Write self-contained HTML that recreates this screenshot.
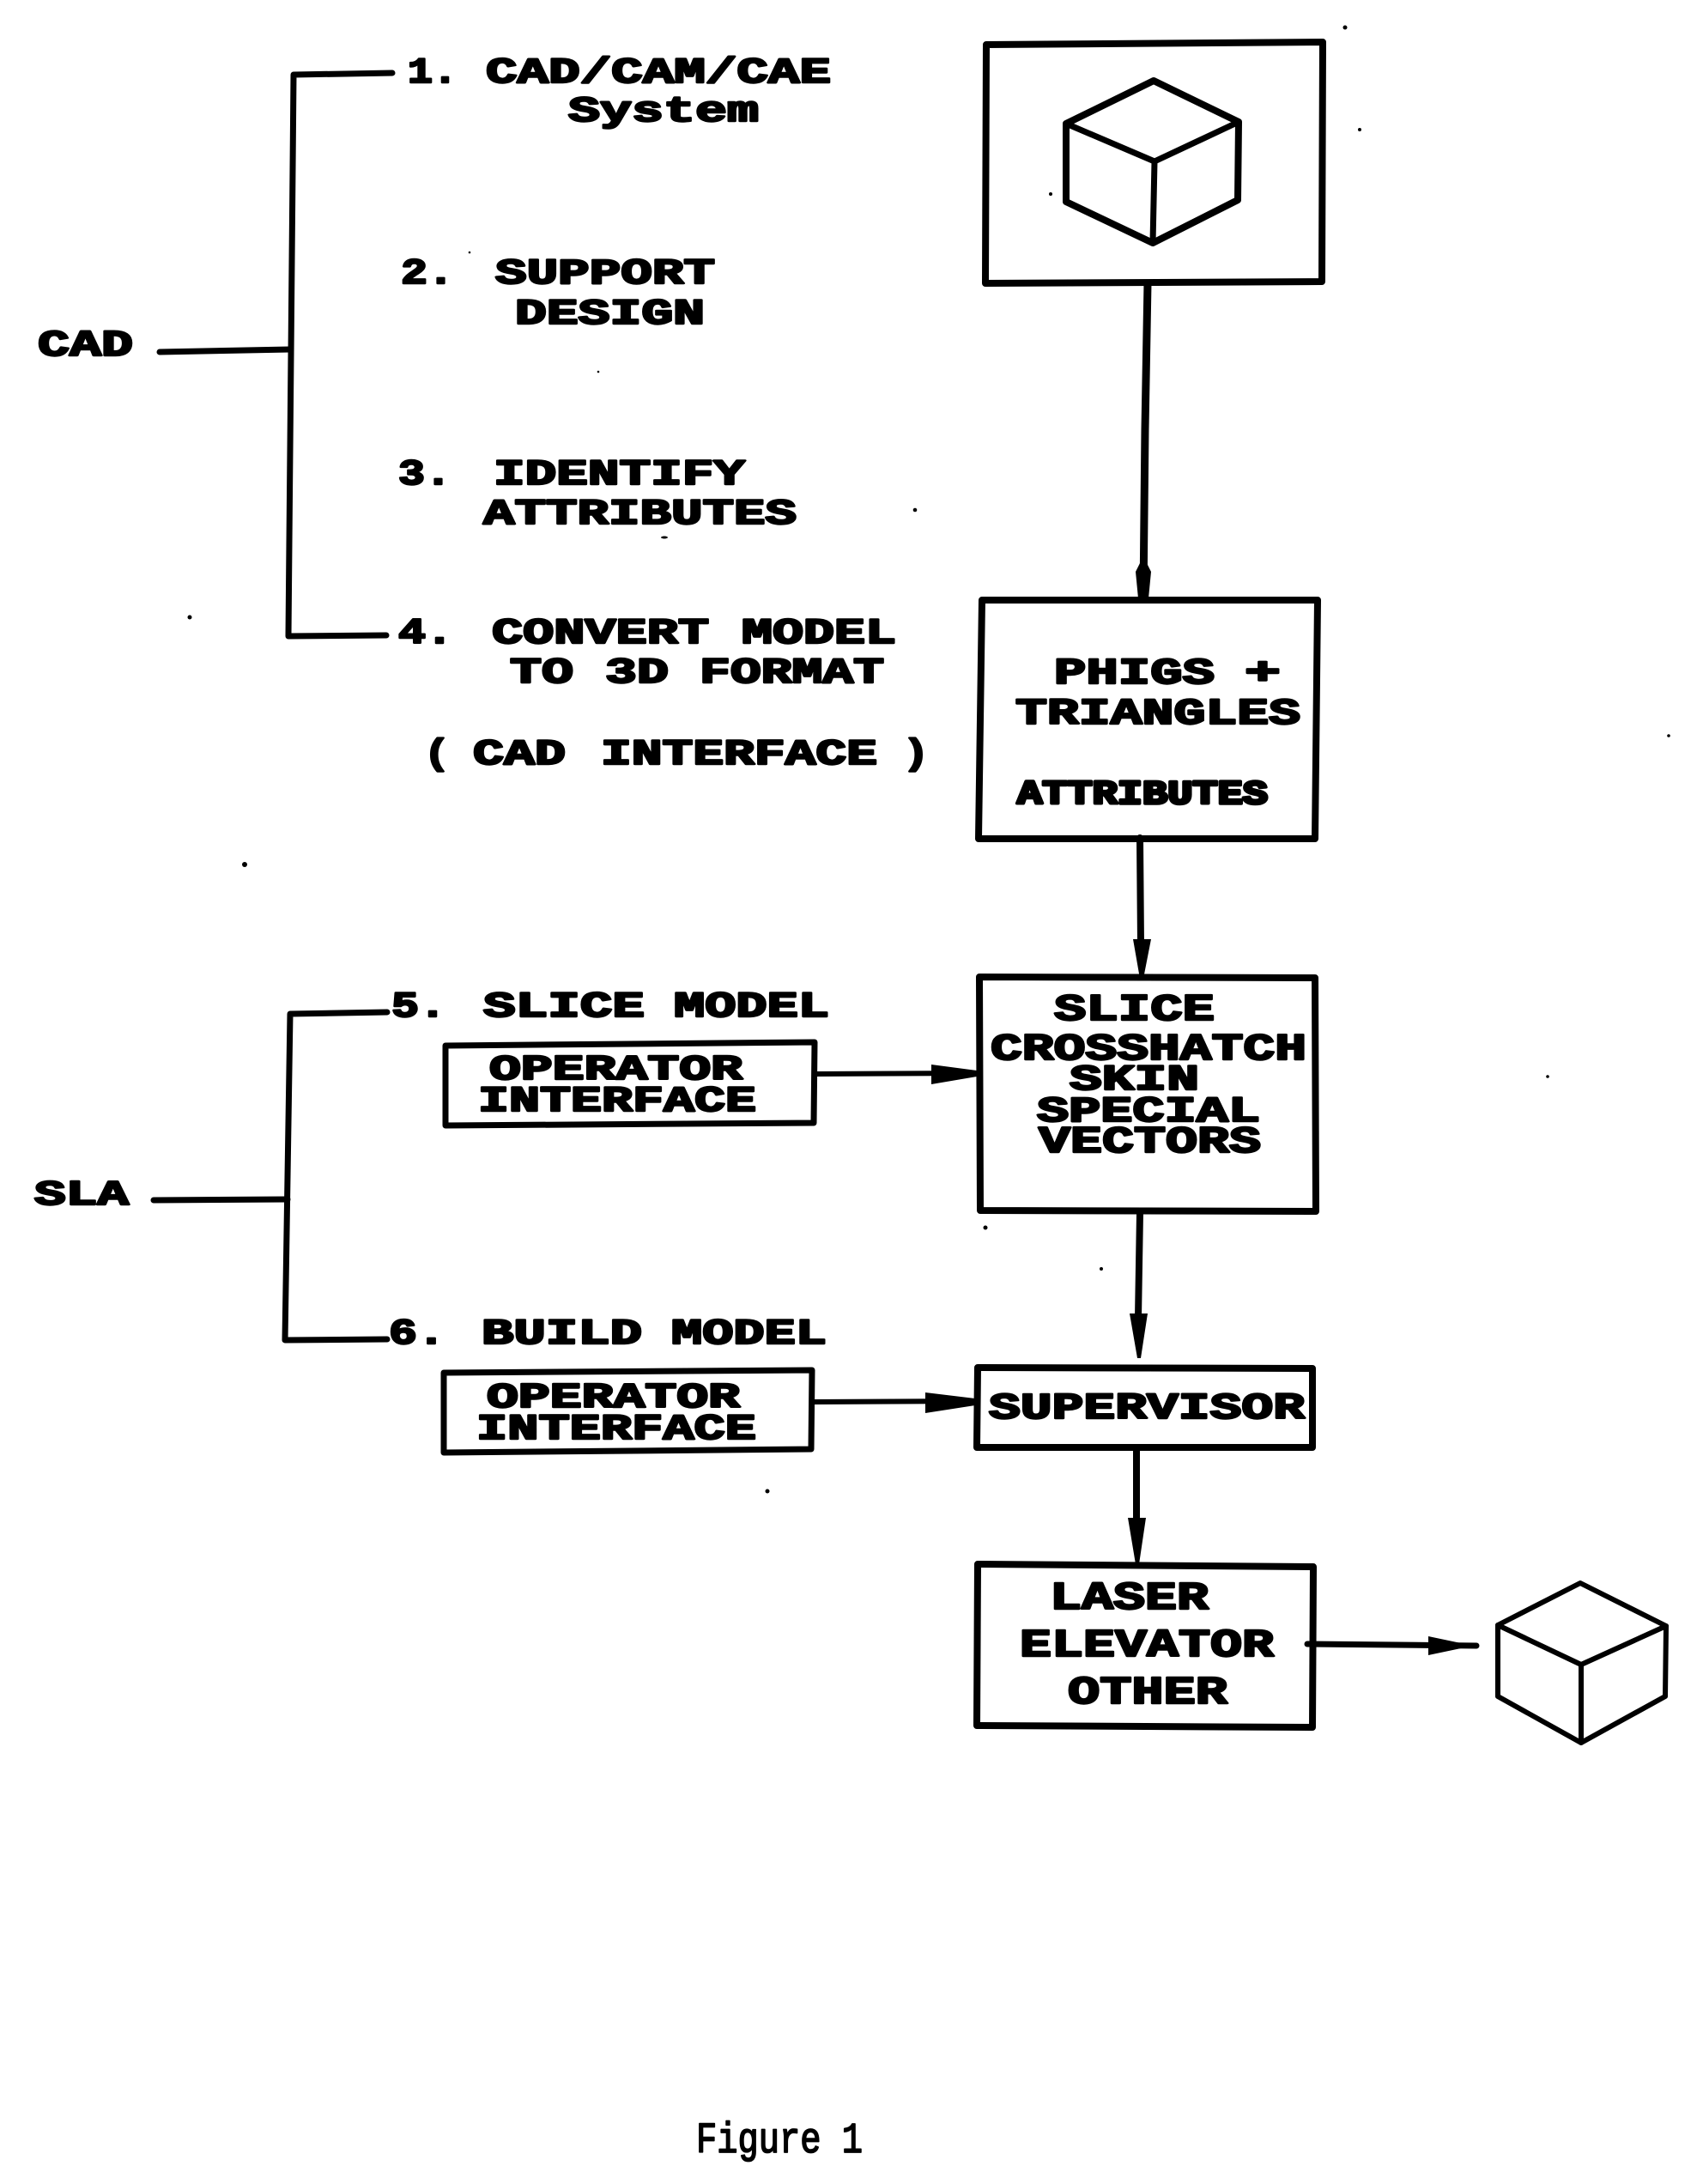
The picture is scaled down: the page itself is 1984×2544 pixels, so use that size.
<!DOCTYPE html>
<html lang="en"><head><meta charset="utf-8"><title>Figure 1</title>
<style>
html,body{margin:0;padding:0;background:#fff;width:1984px;height:2544px;overflow:hidden}
svg{display:block}
text{font-family:"Liberation Mono",monospace;font-weight:700;fill:#000;stroke:#000;stroke-width:2.4;stroke-linejoin:round}
.l{fill:none;stroke:#000;stroke-linejoin:round;stroke-linecap:round}
</style></head><body>
<svg xmlns="http://www.w3.org/2000/svg" width="1984" height="2544" viewBox="0 0 1984 2544">
<rect width="1984" height="2544" fill="#fff"/>

<!-- boxes -->
<path class="l" stroke-width="8" d="M1149 52L1541 49L1540 328L1148 330Z"/>
<path class="l" stroke-width="8" d="M1144 699L1535 699L1532 977L1140 977Z"/>
<path class="l" stroke-width="8" d="M1141 1138L1532 1139L1533 1411L1142 1410Z"/>
<path class="l" stroke-width="8" d="M1139 1593L1529 1594L1529 1686L1138 1686Z"/>
<path class="l" stroke-width="8" d="M1139 1822L1530 1825L1529 2012L1138 2010Z"/>
<path class="l" stroke-width="7" d="M519 1218L949 1214L948 1308L519 1311Z"/>
<path class="l" stroke-width="7" d="M517 1599L946 1596L945 1688L517 1692Z"/>

<!-- cubes -->
<path class="l" stroke-width="8" d="M1344 94L1443 142L1442 233L1343 283L1242 235L1242 144Z"/>
<path class="l" stroke-width="7" d="M1242 144L1345 188L1443 142M1345 188L1343 283"/>
<path class="l" stroke-width="6" d="M1841 1844L1941 1894L1940 1976L1842 2030L1745 1976L1745 1893Z"/>
<path class="l" stroke-width="6" d="M1745 1893L1842 1939L1941 1894M1842 1939L1842 2030"/>

<!-- brackets -->
<path class="l" stroke-width="7" d="M457 85L342 87L336 741L450 740"/>
<path class="l" stroke-width="7" d="M186 410L338 407"/>
<path class="l" stroke-width="7" d="M451 1179L338 1181L332 1561L451 1560"/>
<path class="l" stroke-width="7" d="M179 1398L335 1397"/>

<!-- connectors -->
<path class="l" stroke-width="9" d="M1337 330L1334 500L1332 697"/>
<path fill="#000" d="M1332 648L1341 666L1338 697L1326 697L1323 666Z"/>
<path class="l" stroke-width="8" d="M1328 976L1329 1100"/>
<path fill="#000" d="M1320 1094L1341 1094L1332 1140L1328 1140Z"/>
<path class="l" stroke-width="8" d="M1328 1413L1326 1535"/>
<path fill="#000" d="M1316 1530L1337 1530L1329 1582L1325 1582Z"/>
<path class="l" stroke-width="8" d="M1324 1687L1324 1770"/>
<path fill="#000" d="M1314 1768L1335 1768L1327 1822L1323 1822Z"/>
<path class="l" stroke-width="6" d="M950 1251L1137 1250"/>
<path fill="#000" d="M1085 1240L1138 1247L1138 1254L1085 1263Z"/>
<path class="l" stroke-width="6" d="M947 1633L1136 1632"/>
<path fill="#000" d="M1078 1622L1136 1629L1136 1637L1078 1646Z"/>
<path class="l" stroke-width="7" d="M1523 1915L1720 1917"/>
<path fill="#000" d="M1664 1906L1702 1914L1702 1920L1664 1928Z"/>

<!-- text left -->
<text x="475" y="96" font-size="42" textLength="58" lengthAdjust="spacingAndGlyphs">1.</text>
<text x="566" y="96" font-size="42" textLength="402" lengthAdjust="spacingAndGlyphs">CAD/CAM/CAE</text>
<text x="662" y="141" font-size="42" textLength="222" lengthAdjust="spacingAndGlyphs">System</text>
<text x="467" y="330" font-size="42" textLength="62" lengthAdjust="spacingAndGlyphs">2.</text>
<text x="577" y="330" font-size="42" textLength="256" lengthAdjust="spacingAndGlyphs">SUPPORT</text>
<text x="600" y="377" font-size="42" textLength="221" lengthAdjust="spacingAndGlyphs">DESIGN</text>
<text x="464" y="564" font-size="42" textLength="62" lengthAdjust="spacingAndGlyphs">3.</text>
<text x="575" y="564" font-size="42" textLength="293" lengthAdjust="spacingAndGlyphs">IDENTIFY</text>
<text x="563" y="610" font-size="42" textLength="365" lengthAdjust="spacingAndGlyphs">ATTRIBUTES</text>
<text x="464" y="749" font-size="42" textLength="64" lengthAdjust="spacingAndGlyphs">4.</text>
<text x="573" y="749" font-size="42" textLength="253" lengthAdjust="spacingAndGlyphs">CONVERT</text>
<text x="864" y="749" font-size="42" textLength="180" lengthAdjust="spacingAndGlyphs">MODEL</text>
<text x="594" y="795" font-size="42" textLength="74" lengthAdjust="spacingAndGlyphs">TO</text>
<text x="705" y="795" font-size="42" textLength="74" lengthAdjust="spacingAndGlyphs">3D</text>
<text x="815" y="795" font-size="42" textLength="215" lengthAdjust="spacingAndGlyphs">FORMAT</text>
<text x="44" y="414" font-size="43" textLength="111" lengthAdjust="spacingAndGlyphs">CAD</text>
<text x="494" y="890" font-size="42" textLength="30" lengthAdjust="spacingAndGlyphs">(</text>
<text x="551" y="890" font-size="42" textLength="108" lengthAdjust="spacingAndGlyphs">CAD</text>
<text x="700" y="890" font-size="42" textLength="322" lengthAdjust="spacingAndGlyphs">INTERFACE</text>
<text x="1052" y="890" font-size="42" textLength="30" lengthAdjust="spacingAndGlyphs">)</text>

<text x="40" y="1403" font-size="41" textLength="110" lengthAdjust="spacingAndGlyphs">SLA</text>
<text x="456" y="1184" font-size="42" textLength="64" lengthAdjust="spacingAndGlyphs">5.</text>
<text x="563" y="1184" font-size="42" textLength="188" lengthAdjust="spacingAndGlyphs">SLICE</text>
<text x="785" y="1184" font-size="42" textLength="181" lengthAdjust="spacingAndGlyphs">MODEL</text>
<text x="570" y="1257" font-size="41" textLength="295" lengthAdjust="spacingAndGlyphs">OPERATOR</text>
<text x="557" y="1294" font-size="42" textLength="324" lengthAdjust="spacingAndGlyphs">INTERFACE</text>
<text x="453" y="1565" font-size="42" textLength="66" lengthAdjust="spacingAndGlyphs">6.</text>
<text x="561" y="1565" font-size="42" textLength="187" lengthAdjust="spacingAndGlyphs">BUILD</text>
<text x="782" y="1565" font-size="42" textLength="181" lengthAdjust="spacingAndGlyphs">MODEL</text>
<text x="567" y="1639" font-size="41" textLength="295" lengthAdjust="spacingAndGlyphs">OPERATOR</text>
<text x="555" y="1676" font-size="42" textLength="326" lengthAdjust="spacingAndGlyphs">INTERFACE</text>

<!-- text in boxes -->
<text x="1228" y="796" font-size="43" textLength="187" lengthAdjust="spacingAndGlyphs">PHIGS</text>
<text x="1450" y="796" font-size="43" textLength="42" lengthAdjust="spacingAndGlyphs">+</text>
<text x="1183" y="843" font-size="43" textLength="332" lengthAdjust="spacingAndGlyphs">TRIANGLES</text>
<text x="1185" y="936" font-size="39" textLength="292" lengthAdjust="spacingAndGlyphs" style="stroke-width:3.5">ATTRIBUTES</text>
<text x="1228" y="1188" font-size="44" textLength="187" lengthAdjust="spacingAndGlyphs">SLICE</text>
<text x="1154" y="1234" font-size="44" textLength="368" lengthAdjust="spacingAndGlyphs">CROSSHATCH</text>
<text x="1246" y="1269" font-size="42" textLength="151" lengthAdjust="spacingAndGlyphs">SKIN</text>
<text x="1208" y="1306" font-size="42" textLength="260" lengthAdjust="spacingAndGlyphs">SPECIAL</text>
<text x="1210" y="1342" font-size="44" textLength="259" lengthAdjust="spacingAndGlyphs">VECTORS</text>
<text x="1152" y="1652" font-size="43" textLength="368" lengthAdjust="spacingAndGlyphs">SUPERVISOR</text>
<text x="1223" y="1874" font-size="45" textLength="185" lengthAdjust="spacingAndGlyphs">LASER</text>
<text x="1188" y="1929" font-size="45" textLength="296" lengthAdjust="spacingAndGlyphs">ELEVATOR</text>
<text x="1244" y="1984" font-size="45" textLength="186" lengthAdjust="spacingAndGlyphs">OTHER</text>

<text x="811" y="2507" font-size="50" textLength="194" lengthAdjust="spacingAndGlyphs" style="font-weight:400;stroke-width:1.8">Figure 1</text>

<!-- specks -->
<g fill="#000">
<circle cx="1567" cy="32" r="2.5"/><circle cx="1584" cy="151" r="2"/><circle cx="1224" cy="226" r="2"/>
<circle cx="547" cy="294" r="1.3"/><circle cx="697" cy="433" r="1.3"/><circle cx="1066" cy="594" r="2.3"/>
<ellipse cx="774" cy="626" rx="4" ry="1.5"/><circle cx="221" cy="719" r="2.5"/><circle cx="285" cy="1007" r="3"/>
<circle cx="1944" cy="857" r="1.8"/><circle cx="1803" cy="1254" r="1.8"/><circle cx="1148" cy="1430" r="2.5"/>
<circle cx="1283" cy="1478" r="2"/><circle cx="894" cy="1737" r="2.5"/>
</g>
</svg>
</body></html>
